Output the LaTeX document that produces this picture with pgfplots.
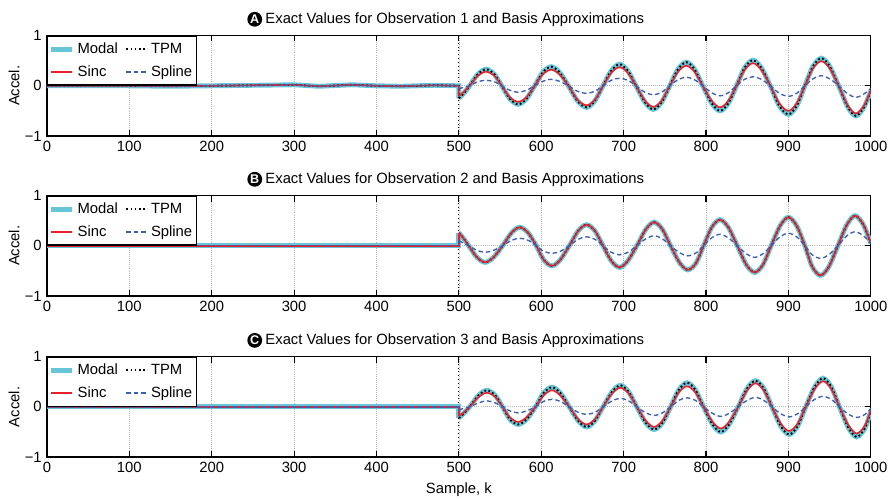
\documentclass[border=0pt]{standalone}
\usepackage{fontspec}
\setmainfont{Liberation Sans}
\usepackage{pgfplots}
\usepackage{pgfplotstable}
\pgfplotsset{compat=1.18}

\definecolor{modalc}{HTML}{66C6D8}
\definecolor{sincc}{HTML}{E8202A}
\definecolor{splinec}{HTML}{3C5DB4}

% ---- Observation 1 ----
\pgfplotstableread{
k modal sinc spline
0 0 0 0
100 0 0 0
150 -0.01 -0.01 -0.01
200 0 0 0
250 0.01 0.01 0.01
300 0.02 0.02 0.02
330 -0.01 -0.01 -0.01
370 0.02 0.02 0.02
400 0 0 0
430 -0.01 -0.01 -0.01
470 0.01 0.01 0.01
500 0 0 0
500 -0.25 -0.21 -0.06
}\obsApre
\pgfplotstableread{
k modal sinc spline
500 -0.25 -0.21 -0.06
506 -0.15 -0.12 -0.03
513 0 0 0
523 0.23 0.20 0.08
533 0.33 0.28 0.11
543 0.23 0.20 0.08
552 0 0 0
562 -0.26 -0.23 -0.09
572 -0.37 -0.32 -0.13
582 -0.26 -0.23 -0.09
592 0 0 0
602 0.27 0.23 0.09
612 0.38 0.32 0.13
622 0.27 0.23 0.09
633 0 0 0
644 -0.30 -0.28 -0.11
655 -0.43 -0.39 -0.15
665 -0.30 -0.28 -0.11
675 0 0 0
685 0.30 0.26 0.11
695 0.43 0.37 0.15
705 0.30 0.26 0.11
715 0 0 0
726 -0.33 -0.30 -0.13
736 -0.47 -0.42 -0.18
746 -0.33 -0.30 -0.13
756 0 0 0
766 0.33 0.28 0.12
776 0.47 0.40 0.17
786 0.33 0.28 0.12
796 0 0 0
807 -0.35 -0.30 -0.14
817 -0.50 -0.43 -0.20
827 -0.35 -0.30 -0.14
837 0 0 0
847 0.36 0.32 0.13
857 0.51 0.45 0.18
867 0.36 0.32 0.13
878 0 0 0
889 -0.40 -0.35 -0.15
900 -0.57 -0.50 -0.21
910 -0.40 -0.35 -0.15
920 0 0 0
930 0.39 0.35 0.14
940 0.55 0.49 0.20
950 0.39 0.35 0.14
961 0 0 0
972 -0.42 -0.39 -0.16
982 -0.60 -0.55 -0.23
992 -0.42 -0.39 -0.16
1000 -0.10 -0.09 -0.05
}\obsApost

% ---- Observation 2 ----
\pgfplotstableread{
k modal sinc spline
0 0 0 0
250 0 0 0
500 0 0 0
500 0.26 0.26 0.10
}\obsBpre
\pgfplotstableread{
k modal sinc spline
500 0.26 0.26 0.10
506 0.14 0.14 0.05
512 0 0 0
522 -0.23 -0.23 -0.09
532 -0.33 -0.33 -0.13
542 -0.23 -0.23 -0.09
553 0 0 0
564 0.26 0.26 0.11
574 0.37 0.37 0.15
584 0.26 0.26 0.11
594 0 0 0
603 -0.28 -0.28 -0.11
613 -0.40 -0.40 -0.15
623 -0.28 -0.28 -0.11
634 0 0 0
645 0.30 0.30 0.13
655 0.42 0.42 0.18
665 0.30 0.30 0.13
675 0 0 0
685 -0.30 -0.30 -0.13
695 -0.43 -0.43 -0.18
705 -0.30 -0.30 -0.13
716 0 0 0
727 0.33 0.33 0.14
737 0.47 0.47 0.20
747 0.33 0.33 0.14
757 0 0 0
768 -0.34 -0.34 -0.14
778 -0.48 -0.48 -0.20
788 -0.34 -0.34 -0.14
797 0 0 0
807 0.37 0.37 0.16
817 0.52 0.52 0.23
827 0.37 0.37 0.16
838 0 0 0
849 -0.38 -0.38 -0.16
859 -0.53 -0.53 -0.23
869 -0.38 -0.38 -0.16
879 0 0 0
890 0.40 0.40 0.18
900 0.57 0.57 0.25
910 0.40 0.40 0.18
920 0 0 0
929 -0.42 -0.42 -0.18
939 -0.59 -0.59 -0.25
949 -0.42 -0.42 -0.18
960 0 0 0
971 0.42 0.42 0.20
981 0.60 0.60 0.28
991 0.42 0.42 0.20
1000 0.05 0.05 0.05
}\obsBpost

% ---- Observation 3 ----
\pgfplotstableread{
k modal sinc spline
0 0 0 0
250 0 0 0
500 0 0 0
500 -0.22 -0.19 -0.06
}\obsCpre
\pgfplotstableread{
k modal sinc spline
500 -0.22 -0.19 -0.06
506 -0.13 -0.11 -0.03
513 0 0 0
524 0.23 0.20 0.08
534 0.33 0.28 0.12
544 0.23 0.20 0.08
553 0 0 0
562 -0.25 -0.21 -0.08
572 -0.35 -0.30 -0.12
582 -0.25 -0.21 -0.08
593 0 0 0
603 0.28 0.23 0.11
613 0.39 0.33 0.15
623 0.28 0.23 0.11
634 0 0 0
645 -0.28 -0.25 -0.11
655 -0.40 -0.35 -0.15
665 -0.28 -0.25 -0.11
675 0 0 0
686 0.30 0.27 0.12
696 0.43 0.38 0.17
706 0.30 0.27 0.12
716 0 0 0
727 -0.32 -0.28 -0.12
737 -0.45 -0.40 -0.17
747 -0.32 -0.28 -0.12
757 0 0 0
767 0.34 0.29 0.13
777 0.48 0.41 0.18
787 0.34 0.29 0.13
797 0 0 0
808 -0.35 -0.30 -0.13
818 -0.50 -0.43 -0.19
828 -0.35 -0.30 -0.13
839 0 0 0
850 0.37 0.33 0.13
860 0.52 0.47 0.19
870 0.37 0.33 0.13
880 0 0 0
891 -0.39 -0.34 -0.14
901 -0.55 -0.48 -0.20
911 -0.39 -0.34 -0.14
921 0 0 0
932 0.40 0.36 0.15
942 0.57 0.51 0.21
952 0.40 0.36 0.15
962 0 0 0
973 -0.42 -0.37 -0.15
983 -0.60 -0.53 -0.21
993 -0.42 -0.37 -0.15
1000 -0.08 -0.07 -0.03
}\obsCpost

\tikzset{
  modalline/.style={draw=modalc, line width=3.3pt},
  tpmline/.style={draw=black, line width=1.3pt, dash pattern=on 1.2pt off 1.6pt},
  sincline/.style={draw=sincc, line width=1.1pt},
  splineline/.style={draw=splinec, line width=0.9pt, dash pattern=on 3pt off 2pt},
  badge/.style={circle, fill=black, text=white, inner sep=0pt, minimum size=10pt,
    font=\bfseries\fontsize{8.5}{9}\selectfont},
}

\pgfplotsset{
  panel/.style={
    scale only axis, width=556pt, height=67.8pt,
    xmin=0, xmax=1000, ymin=-1, ymax=1,
    xtick={0,100,...,1000}, ytick={-1,0,1}, yticklabels={−1,0,1},
    tick align=inside, tick pos=both, major tick length=4pt,
    axis line style={line width=0.9pt},
    tick style={black, line width=0.8pt},
    grid=major, grid style={densely dotted, gray!60, line width=0.5pt},
    font=\fontsize{10}{12}\selectfont,
    tick label style={font=\fontsize{10}{12}\selectfont},
    /pgf/number format/assume math mode=true,
    /pgf/number format/1000 sep={},
    ylabel={Accel.},
    ylabel style={at={(axis description cs:-0.04,0.5)}, anchor=center},
    title style={at={(0.495,1)}, anchor=base, yshift=2.4pt},
    legend columns=2, legend cell align=left,
    legend style={at={(0,1)}, anchor=north west, draw=black, line width=0.8pt,
      font=\fontsize{10}{12}\selectfont, inner xsep=1pt, inner ysep=2.5pt,
      row sep=2.5pt,
      /tikz/every even column/.append style={column sep=3pt}},
    legend image code/.code={\draw[#1] (0pt,0pt) -- (14pt,0pt);},
  },
  badged/.style={title style={label={[badge, label distance=-1.5pt]left:#1}}},
}

\begin{document}
\begin{tikzpicture}
\path[use as bounding box] (0,0) rectangle (600pt,337.5pt);

\begin{axis}[panel, badged=A, at={(31.7pt,313.5pt)}, anchor=north west,
  title={Exact Values for Observation 1 and Basis Approximations}]
  \addlegendimage{modalline}
  \addlegendimage{tpmline}
  \addlegendimage{sincline}
  \addlegendimage{splineline}
  \addplot[black, dotted, line width=0.6pt, forget plot] coordinates {(500,-1) (500,1)};
  \addplot[modalline, forget plot] table[x=k, y=modal] {\obsApre};
  \addplot[modalline, smooth, forget plot] table[x=k, y=modal] {\obsApost};
  \addplot[tpmline, forget plot] table[x=k, y=modal] {\obsApre};
  \addplot[tpmline, smooth, forget plot] table[x=k, y=modal] {\obsApost};
  \addplot[sincline, forget plot] table[x=k, y=sinc] {\obsApre};
  \addplot[sincline, smooth, forget plot] table[x=k, y=sinc] {\obsApost};
  \addplot[splineline, forget plot] table[x=k, y=spline] {\obsApre};
  \addplot[splineline, smooth, forget plot] table[x=k, y=spline] {\obsApost};
  \legend{Modal, TPM, Sinc, Spline}
\end{axis}

\begin{axis}[panel, badged=B, at={(31.7pt,205.5pt)}, anchor=north west,
  title={Exact Values for Observation 2 and Basis Approximations}]
  \addlegendimage{modalline}
  \addlegendimage{tpmline}
  \addlegendimage{sincline}
  \addlegendimage{splineline}
  \addplot[black, dotted, line width=0.6pt, forget plot] coordinates {(500,-1) (500,1)};
  \addplot[modalline, forget plot] table[x=k, y=modal] {\obsBpre};
  \addplot[modalline, smooth, forget plot] table[x=k, y=modal] {\obsBpost};
  \addplot[tpmline, forget plot] table[x=k, y=modal] {\obsBpre};
  \addplot[tpmline, smooth, forget plot] table[x=k, y=modal] {\obsBpost};
  \addplot[sincline, forget plot] table[x=k, y=sinc] {\obsBpre};
  \addplot[sincline, smooth, forget plot] table[x=k, y=sinc] {\obsBpost};
  \addplot[splineline, forget plot] table[x=k, y=spline] {\obsBpre};
  \addplot[splineline, smooth, forget plot] table[x=k, y=spline] {\obsBpost};
  \legend{Modal, TPM, Sinc, Spline}
\end{axis}

\begin{axis}[panel, badged=C, at={(31.7pt,96.8pt)}, anchor=north west,
  title={Exact Values for Observation 3 and Basis Approximations},
  xlabel={Sample, k},
  xlabel style={at={(axis description cs:0.5,0)}, anchor=center, yshift=-22pt}]
  \addlegendimage{modalline}
  \addlegendimage{tpmline}
  \addlegendimage{sincline}
  \addlegendimage{splineline}
  \addplot[black, dotted, line width=0.6pt, forget plot] coordinates {(500,-1) (500,1)};
  \addplot[modalline, forget plot] table[x=k, y=modal] {\obsCpre};
  \addplot[modalline, smooth, forget plot] table[x=k, y=modal] {\obsCpost};
  \addplot[tpmline, forget plot] table[x=k, y=modal] {\obsCpre};
  \addplot[tpmline, smooth, forget plot] table[x=k, y=modal] {\obsCpost};
  \addplot[sincline, forget plot] table[x=k, y=sinc] {\obsCpre};
  \addplot[sincline, smooth, forget plot] table[x=k, y=sinc] {\obsCpost};
  \addplot[splineline, forget plot] table[x=k, y=spline] {\obsCpre};
  \addplot[splineline, smooth, forget plot] table[x=k, y=spline] {\obsCpost};
  \legend{Modal, TPM, Sinc, Spline}
\end{axis}
\end{tikzpicture}
\end{document}
